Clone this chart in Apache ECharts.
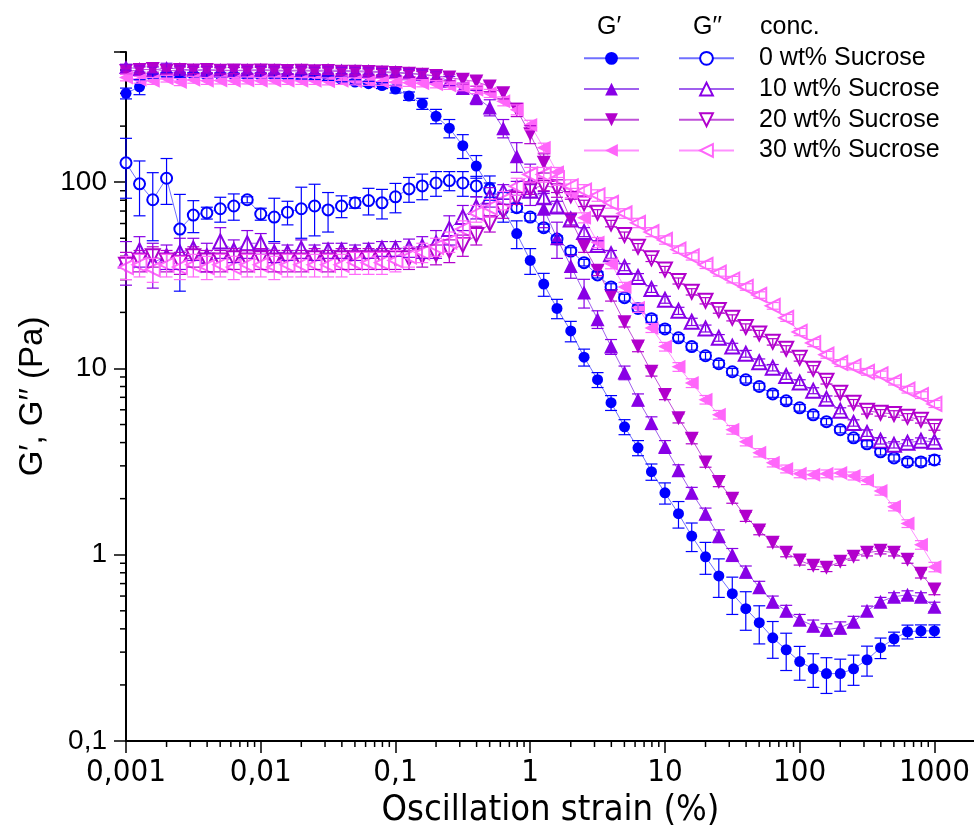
<!DOCTYPE html>
<html>
<head>
<meta charset="utf-8">
<script src="https://cdn.jsdelivr.net/npm/echarts@6/dist/echarts.min.js"></script>
<style>
  html, body { margin: 0; padding: 0; background: #fff; }
  #chart { width: 974px; height: 829px; }
</style>
</head>
<body>
<div id="chart"></div>
<script>
// Amplitude sweep: oscillation strain (%)
const strain = [
  0.001, 0.00126, 0.00158, 0.002, 0.00251, 0.00316, 0.00398, 0.00501, 0.00631, 0.00794,
  0.01, 0.0126, 0.0158, 0.02, 0.0251, 0.0316, 0.0398, 0.0501, 0.0631, 0.0794,
  0.1, 0.126, 0.158, 0.2, 0.251, 0.316, 0.398, 0.501, 0.631, 0.794,
  1, 1.26, 1.58, 2, 2.51, 3.16, 3.98, 5.01, 6.31, 7.94,
  10, 12.6, 15.8, 20, 25.1, 31.6, 39.8, 50.1, 63.1, 79.4,
  100, 126, 158, 200, 251, 316, 398, 501, 631, 794, 1000
];

// Storage modulus G′ (Pa) and its standard deviation
const storage0 = [300, 325, 372, 378, 376, 378, 374, 376, 375, 372, 374, 372, 370, 368, 366, 362, 356, 345, 338, 330,
  316, 290, 264, 226, 195, 157, 122, 94, 71, 53, 38, 28.4, 21, 15.9, 11.5, 8.7, 6.55, 4.86, 3.75, 2.79,
  2.15, 1.66, 1.26, 0.975, 0.77, 0.618, 0.513, 0.432, 0.358, 0.309, 0.267, 0.244, 0.23, 0.23, 0.244, 0.273, 0.317, 0.354, 0.386, 0.39, 0.39];
const storage0Err = [20, 30, 10, 10, 10, 10, 10, 10, 10, 10, 10, 10, 10, 10, 10, 10, 10, 10, 10, 12,
  15, 15, 18, 20, 22, 23, 17, 14, 10, 9, 6, 4, 2.5, 2, 1.2, 0.8, 0.6, 0.45, 0.35, 0.28,
  0.28, 0.27, 0.22, 0.19, 0.18, 0.14, 0.12, 0.1, 0.08, 0.07, 0.055, 0.05, 0.05, 0.045, 0.045, 0.05, 0.04, 0.03, 0.033, 0.03, 0.03];

const storage10 = [415, 405, 400, 410, 405, 400, 402, 400, 398, 400, 402, 400, 398, 400, 398, 400, 398, 396, 395, 392,
  390, 385, 380, 370, 350, 320, 286, 252, 195, 138, 100, 72, 50, 35.5, 25.6, 18.4, 13.1, 9.5, 6.8, 5.1,
  3.8, 2.84, 2.15, 1.66, 1.26, 1.0, 0.81, 0.67, 0.56, 0.5, 0.448, 0.416, 0.396, 0.406, 0.437, 0.5, 0.56, 0.595, 0.61, 0.595, 0.526];
const storage10Err = [15, 15, 15, 25, 15, 15, 15, 15, 15, 15, 15, 15, 15, 15, 15, 15, 15, 15, 15, 15,
  15, 20, 20, 20, 20, 20, 25, 25, 22, 25, 25, 15, 11, 5, 4.5, 2, 1.2, 0.8, 0.5, 0.4,
  0.3, 0.2, 0.15, 0.12, 0.1, 0.08, 0.06, 0.05, 0.04, 0.035, 0.03, 0.03, 0.03, 0.03, 0.03, 0.03, 0.03, 0.03, 0.03, 0.03, 0.03];

const storage20 = [395, 400, 405, 395, 400, 398, 400, 396, 398, 396, 398, 396, 395, 396, 394, 395, 392, 392, 390, 388,
  386, 382, 378, 372, 365, 355, 347, 326, 300, 245, 181, 127, 93, 63, 45, 33.5, 24.5, 17.7, 13.1, 9.6,
  7.2, 5.4, 4.19, 3.13, 2.46, 2.0, 1.6, 1.35, 1.16, 1.025, 0.93, 0.873, 0.852, 0.917, 0.975, 1.025, 1.05, 1.025, 0.94, 0.79, 0.65];
const storage20Err = [15, 15, 15, 15, 15, 15, 15, 15, 15, 15, 15, 15, 15, 15, 15, 15, 15, 15, 15, 15,
  15, 15, 15, 15, 15, 18, 20, 20, 20, 20, 20, 15, 10, 5, 3, 2, 1.5, 1, 0.8, 0.5,
  0.4, 0.3, 0.25, 0.18, 0.14, 0.11, 0.09, 0.07, 0.06, 0.05, 0.05, 0.04, 0.04, 0.04, 0.04, 0.04, 0.04, 0.04, 0.04, 0.04, 0.04];

const storage30 = [365, 355, 350, 360, 345, 355, 350, 352, 350, 352, 350, 352, 350, 350, 350, 348, 350, 348, 346, 346,
  344, 342, 340, 336, 330, 325, 314, 300, 272, 245, 203, 153, 113, 87.6, 64.5, 47.5, 36.5, 27.4, 21.2, 16.5,
  13.1, 10.2, 8.35, 6.8, 5.65, 4.69, 4.04, 3.53, 3.12, 2.89, 2.72, 2.69, 2.72, 2.75, 2.65, 2.5, 2.2, 1.81, 1.47, 1.13, 0.86];
const storage30Err = [15, 15, 15, 15, 15, 15, 15, 15, 15, 15, 15, 15, 15, 15, 15, 15, 15, 15, 15, 15,
  15, 15, 15, 15, 15, 15, 15, 15, 15, 15, 12, 9, 7, 5, 4, 3, 2.2, 1.6, 1.2, 0.9,
  0.7, 0.55, 0.45, 0.36, 0.3, 0.25, 0.2, 0.18, 0.16, 0.14, 0.13, 0.13, 0.13, 0.13, 0.13, 0.12, 0.11, 0.09, 0.07, 0.06, 0.05];

// Loss modulus G′′ (Pa) and its standard deviation
const loss0 = [127, 98, 80.5, 105, 56, 66.6, 68.4, 72, 74.5, 80.5, 67.5, 65, 69, 72, 74.5, 71, 74.5, 77.5, 79.7, 77.5,
  83.5, 92, 95.5, 99, 102, 99, 95.5, 91, 82, 73, 65, 57, 49.5, 42.7, 37, 31.8, 27.4, 24, 21, 18.5,
  16.3, 14.6, 13.1, 11.7, 10.6, 9.6, 8.7, 8.0, 7.3, 6.7, 6.15, 5.64, 5.18, 4.69, 4.24, 3.94, 3.57, 3.31, 3.15, 3.15, 3.23];
const loss0Err = [45, 32, 32, 29, 30, 13, 5, 11, 12, 3, 5, 17, 10, 22, 23, 17, 10, 5, 13, 14,
  15, 14, 15, 15, 12, 15, 12, 8, 6, 4, 3, 2.5, 2, 1.8, 1.5, 1.2, 1.1, 1, 0.9, 0.8,
  0.7, 0.6, 0.55, 0.5, 0.45, 0.4, 0.35, 0.33, 0.3, 0.28, 0.25, 0.22, 0.2, 0.18, 0.17, 0.15, 0.14, 0.13, 0.13, 0.15, 0.18];

const loss10 = [38, 43, 37, 40, 42, 44, 40, 48, 43, 47, 47, 42, 42, 44, 42, 43, 43, 42, 43, 44,
  44, 44.5, 45, 47, 56, 65, 73.5, 83.5, 89, 93, 90, 83, 74, 63, 54, 46, 41, 35, 31, 26.7,
  23.4, 20.4, 17.8, 16.4, 14.6, 13.1, 12, 10.8, 10.1, 9.1, 8.4, 7.6, 6.87, 5.93, 5.1, 4.5, 4.09, 3.89, 3.99, 4.09, 4.04];
const loss10Err = [10, 8, 10, 6, 8, 6, 7, 9, 6, 8, 6, 5, 4, 5, 4, 4, 4, 4, 4, 4,
  4, 5, 6, 8, 10, 10, 10, 10, 8, 8, 7, 6, 5, 4, 3, 2.5, 2, 1.5, 1.3, 1.1,
  1, 0.9, 0.8, 0.7, 0.6, 0.55, 0.5, 0.45, 0.4, 0.35, 0.3, 0.28, 0.25, 0.22, 0.2, 0.18, 0.16, 0.15, 0.15, 0.15, 0.15];

const loss20 = [36, 38, 40, 38, 37, 40, 38, 38, 39, 38, 39, 38, 38, 38, 39, 38, 39, 39, 39, 39,
  39, 39, 40, 41, 43, 46, 52, 60, 70, 82, 92, 96, 93, 85, 77, 68.5, 60, 52, 45, 39,
  34, 29.5, 25.8, 23.1, 20.6, 18.7, 16.7, 15.4, 13.9, 12.75, 11.4, 9.95, 8.6, 7.4, 6.55, 5.93, 5.78, 5.7, 5.5, 5.3, 4.86];
const loss20Err = [6, 5, 5, 5, 5, 5, 5, 5, 5, 5, 5, 5, 5, 5, 5, 5, 5, 5, 5, 5,
  5, 5, 5, 5, 6, 6, 6, 6, 6, 6, 6, 6, 5, 4, 3, 2.7, 2.4, 2, 1.8, 1.5,
  1.3, 1.1, 1, 0.9, 0.8, 0.7, 0.65, 0.6, 0.55, 0.5, 0.45, 0.4, 0.35, 0.3, 0.26, 0.24, 0.23, 0.23, 0.22, 0.21, 0.2];

const loss30 = [35, 36, 34, 36, 35, 36, 35, 36, 35, 36, 36, 35, 36, 36, 36, 36, 36, 37, 37, 37,
  38, 40, 42, 45, 48, 56, 68, 73, 80, 95, 110, 110, 105, 95, 90, 85, 77.5, 68, 60.5, 54,
  49, 43.5, 40, 36, 32.7, 30, 27.4, 24.8, 21.7, 18.7, 15.7, 13.7, 11.85, 10.7, 10.25, 9.6, 9.3, 8.5, 7.7, 7.2, 6.45];
const loss30Err = [5, 5, 5, 5, 5, 5, 5, 5, 5, 5, 5, 5, 5, 5, 5, 5, 5, 5, 5, 5,
  5, 5, 5, 5, 6, 6, 7, 8, 9, 10, 10, 10, 9, 8, 7, 6, 5, 4, 3.5, 3,
  2.5, 2, 1.8, 1.6, 1.4, 1.2, 1.1, 1, 0.9, 0.8, 0.7, 0.6, 0.5, 0.45, 0.42, 0.4, 0.38, 0.35, 0.32, 0.3, 0.28];

const concLabels = ['0 wt% Sucrose', '10 wt% Sucrose', '20 wt% Sucrose', '30 wt% Sucrose'];
const xTickValues = [0.001, 0.01, 0.1, 1, 10, 100, 1000];
const xTickLabels = ['0,001', '0,01', '0,1', '1', '10', '100', '1000'];
const yTickValues = [0.1, 1, 10, 100];
const yTickLabels = ['0,1', '1', '10', '100'];

const narrowFont = "'Liberation Sans Narrow', 'DejaVu Sans Condensed', 'Liberation Sans', sans-serif";
const sansFont = "'Liberation Sans', Arial, sans-serif";

const groups = [
  { color: '#0000FF', line: '#7070FF', symbol: 'circle', rotate: 0, size: 11,
    gp: storage0, gpErr: storage0Err, gpp: loss0, gppErr: loss0Err },
  { color: '#8800E6', line: '#A060EE', symbol: 'triangle', rotate: 0, size: 14,
    gp: storage10, gpErr: storage10Err, gpp: loss10, gppErr: loss10Err },
  { color: '#B200CC', line: '#C050D8', symbol: 'triangle', rotate: 180, size: 14,
    gp: storage20, gpErr: storage20Err, gpp: loss20, gppErr: loss20Err },
  { color: '#FF66FA', line: '#FF90FF', symbol: 'triangle', rotate: 90, size: 14,
    gp: storage30, gpErr: storage30Err, gpp: loss30, gppErr: loss30Err }
];

function tickLabel(values, labels) {
  return function (v) {
    for (let i = 0; i < values.length; i++) {
      if (Math.abs(Math.log10(v) - Math.log10(values[i])) < 1e-6) return labels[i];
    }
    return '';
  };
}

function lineSeries(name, vals, g, filled) {
  const sym = filled ? g.symbol : 'empty' + g.symbol.charAt(0).toUpperCase() + g.symbol.slice(1);
  return {
    name: name,
    type: 'line',
    data: strain.map((x, i) => [x, vals[i]]),
    symbol: sym,
    symbolSize: g.size,
    symbolRotate: g.rotate,
    showSymbol: true,
    showAllSymbol: true,
    lineStyle: { color: g.line, width: 1 },
    itemStyle: { color: g.color, borderColor: g.color, borderWidth: filled ? 0 : 1.3 },
    emphasis: { disabled: true },
    z: 3
  };
}

function errorSeries(name, vals, errs, color) {
  return {
    name: name,
    type: 'custom',
    silent: true,
    clip: false,
    z: 4,
    data: strain.map((x, i) => [x, vals[i] - errs[i], vals[i] + errs[i]]),
    encode: { x: 0, y: [1, 2] },
    renderItem: function (params, api) {
      const x = api.value(0);
      const lo = api.coord([x, api.value(1)]);
      const hi = api.coord([x, api.value(2)]);
      const w = 6;
      const st = { stroke: color, lineWidth: 1.2 };
      return {
        type: 'group',
        children: [
          { type: 'line', shape: { x1: lo[0], y1: lo[1], x2: hi[0], y2: hi[1] }, style: st },
          { type: 'line', shape: { x1: lo[0] - w, y1: lo[1], x2: lo[0] + w, y2: lo[1] }, style: st },
          { type: 'line', shape: { x1: hi[0] - w, y1: hi[1], x2: hi[0] + w, y2: hi[1] }, style: st }
        ]
      };
    }
  };
}

const series = [];
const gpNames = [], gppNames = [];
groups.forEach((g, k) => {
  const n1 = 'G′ ' + concLabels[k];
  const n2 = 'G′′ ' + concLabels[k];
  gpNames.push(n1);
  gppNames.push(n2);
  series.push(lineSeries(n1, g.gp, g, true));
  series.push(errorSeries(n1 + ' SD', g.gp, g.gpErr, g.color));
  series.push(lineSeries(n2, g.gpp, g, false));
  series.push(errorSeries(n2 + ' SD', g.gpp, g.gppErr, g.color));
});

const chart = echarts.init(document.getElementById('chart'), null, { renderer: 'canvas' });

const legendCommon = {
  orient: 'vertical',
  top: 43,
  padding: 0,
  itemWidth: 55,
  itemHeight: 16,
  itemGap: 0,
  selectedMode: false,
  textStyle: { fontSize: 25, lineHeight: 30.7, fontFamily: sansFont, color: '#000' }
};

chart.setOption({
  animation: false,
  backgroundColor: '#fff',
  grid: { left: 126, top: 52, width: 849, height: 689, containLabel: false, outerBoundsMode: 'none' },
  xAxis: {
    type: 'log',
    logBase: 10,
    min: 0.001,
    max: 2000,
    splitNumber: 7,
    name: 'Oscillation strain (%)',
    nameLocation: 'middle',
    nameGap: 44,
    nameTextStyle: { fontSize: 36, fontFamily: narrowFont, color: '#000' },
    axisLine: { show: true, lineStyle: { color: '#000', width: 2 } },
    axisTick: { show: true, inside: false, length: 12, lineStyle: { color: '#000', width: 1.5 } },
    axisLabel: { formatter: tickLabel(xTickValues, xTickLabels), fontSize: 31, fontFamily: narrowFont, color: '#000', margin: 16 },
    splitLine: { show: false }
  },
  yAxis: {
    type: 'log',
    logBase: 10,
    min: 0.1,
    max: 500,
    splitNumber: 4,
    name: 'G′, G′′ (Pa)',
    nameLocation: 'middle',
    nameGap: 70,
    nameTextStyle: { fontSize: 33, fontFamily: sansFont, color: '#000' },
    axisLine: { show: true, lineStyle: { color: '#000', width: 2 } },
    axisTick: { show: true, inside: false, length: 12, lineStyle: { color: '#000', width: 1.5 } },
    axisLabel: { formatter: tickLabel(yTickValues, yTickLabels), fontSize: 28, fontFamily: sansFont, color: '#000', margin: 19 },
    splitLine: { show: false }
  },
  legend: [
    Object.assign({}, legendCommon, { left: 583, data: gpNames, formatter: () => ' ' }),
    Object.assign({}, legendCommon, {
      left: 678, data: gppNames,
      formatter: (name) => concLabels[gppNames.indexOf(name)],
      textStyle: Object.assign({}, legendCommon.textStyle, { padding: [0, 0, 0, 20] })
    })
  ],
  series: series
});

// Logarithmic minor ticks (2..9 within each decade) placed through the axis scales
const minor = [];
const xAxisY = chart.convertToPixel({ yAxisIndex: 0 }, 0.1);
const yAxisX = chart.convertToPixel({ xAxisIndex: 0 }, 0.001);
for (let e = -3; e <= 3; e++) {
  for (let m = 2; m <= 9; m++) {
    const v = m * Math.pow(10, e);
    if (v > 2000) continue;
    const px = chart.convertToPixel({ xAxisIndex: 0 }, v);
    minor.push({ type: 'line', silent: true, shape: { x1: px, y1: xAxisY, x2: px, y2: xAxisY + 6 },
      style: { stroke: '#000', lineWidth: 1.5 } });
  }
}
for (let e = -1; e <= 2; e++) {
  for (let m = 2; m <= 9; m++) {
    const v = m * Math.pow(10, e);
    if (v > 500) continue;
    const py = chart.convertToPixel({ yAxisIndex: 0 }, v);
    minor.push({ type: 'line', silent: true, shape: { x1: yAxisX - 6, y1: py, x2: yAxisX, y2: py },
      style: { stroke: '#000', lineWidth: 1.5 } });
  }
}

// Column headers of the legend
const headers = [
  { type: 'text', left: 597, top: 15, style: { text: 'G′', font: '25px ' + sansFont, fill: '#000' } },
  { type: 'text', left: 693, top: 15, style: { text: 'G′′', font: '25px ' + sansFont, fill: '#000' } },
  { type: 'text', left: 760, top: 15, style: { text: 'conc.', font: '25px ' + sansFont, fill: '#000' } }
];

chart.setOption({ graphic: { elements: minor.concat(headers) } });
</script>
</body>
</html>
